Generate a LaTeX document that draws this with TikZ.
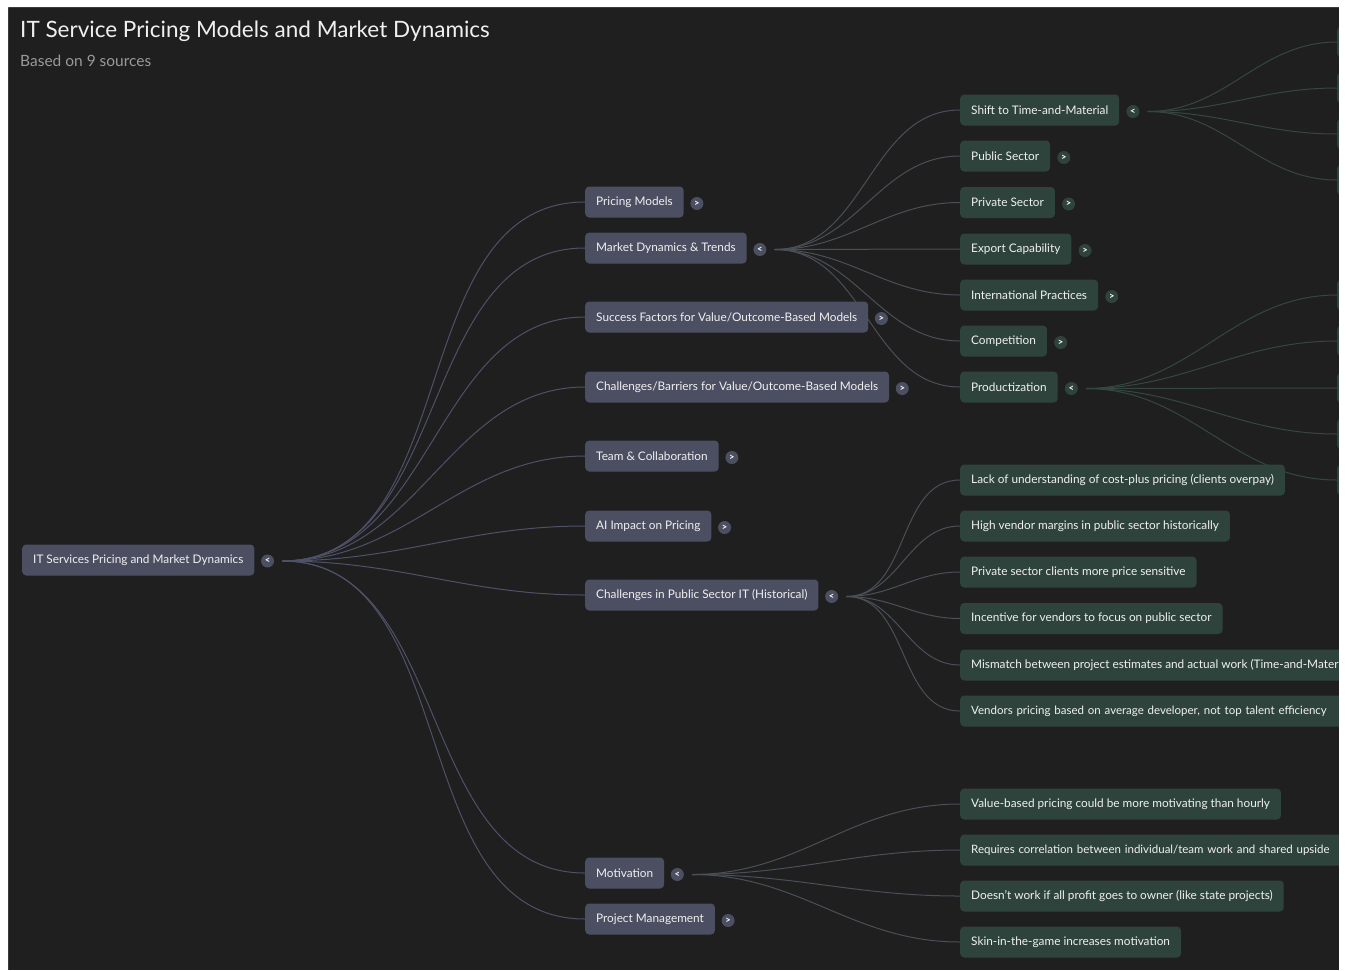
\documentclass[tikz,border=0pt]{standalone}
\usepackage{fontspec}
\setmainfont{Lato}
\usetikzlibrary{backgrounds}

\definecolor{panel}{HTML}{1F1F1F}
\definecolor{bluefill}{HTML}{4C4F62}
\definecolor{greenfill}{HTML}{2F433D}
\definecolor{nodetext}{HTML}{F0F0F0}
\definecolor{linkroot}{HTML}{4F5168}
\definecolor{linkmid}{HTML}{4A4F58}
\definecolor{linkgreen}{HTML}{34483F}
\definecolor{subgrey}{HTML}{9A9A9A}

\begin{document}
\begin{tikzpicture}[x=1pt, y=-1pt,
    bluebox/.style={fill=bluefill, text=nodetext, rounded corners=4pt, anchor=west,
        minimum height=31pt, inner xsep=11pt, inner ysep=0pt,
        font=\fontsize{11.8}{13}\selectfont},
    greenbox/.style={bluebox, fill=greenfill},
    widebox/.style={greenbox, text width=370pt, align=left, font=\fontsize{11.5}{13}\selectfont},
    bluetog/.style={circle, fill=bluefill, text=white, inner sep=0pt, minimum size=13pt,
        font=\fontsize{9.5}{9.5}\bfseries\selectfont},
    greentog/.style={bluetog, fill=greenfill},
    link/.style={line width=1pt, out=0, in=180}]
        \useasboundingbox (0,0) rectangle (1348,970);

        % title
        \node[anchor=base west, inner sep=0pt, text=white!94!black,
            font=\fontsize{22.5}{26}\selectfont] (title) at (20,37) {IT Service Pricing Models and Market Dynamics};
        \node[anchor=base west, inner sep=0pt, text=subgrey,
            font=\fontsize{15.5}{18}\selectfont] (subtitle) at (20,66) {Based on 9 sources};

        % root
        \node[bluebox] (root) at (22,560) {IT Services Pricing and Market Dynamics};
        \path (root.east) + (13,1) node[bluetog] (root-tog) {<};

        % first level
        \node[bluebox] (pricing) at (585,202) {Pricing Models};
        \node[bluebox] (market) at (585,248) {Market Dynamics \& Trends};
        \node[bluebox] (success) at (585,317) {Success Factors for Value/Outcome-Based Models};
        \node[bluebox] (barriers) at (585,387) {Challenges/Barriers for Value/Outcome-Based Models};
        \node[bluebox] (team) at (585,456) {Team \& Collaboration};
        \node[bluebox] (aiimpact) at (585,526) {AI Impact on Pricing};
        \node[bluebox] (public) at (585,595) {Challenges in Public Sector IT (Historical)};
        \node[bluebox] (motivation) at (585,873) {Motivation};
        \node[bluebox] (projects) at (585,919) {Project Management};
        \foreach \n/\s in {pricing/>, market/<, success/>, barriers/>, team/>,
                aiimpact/>, public/<, motivation/<, projects/>}
            \path (\n.east) + (13,1.5) node[bluetog] (\n-tog) {\s};

        % market dynamics
        \node[greenbox] (shift) at (960,110) {Shift to Time-and-Material};
        \node[greenbox] (pubsec) at (960,156) {Public Sector};
        \node[greenbox] (privsec) at (960,202.5) {Private Sector};
        \node[greenbox] (export) at (960,249) {Export Capability};
        \node[greenbox] (intl) at (960,295) {International Practices};
        \node[greenbox] (competition) at (960,341) {Competition};
        \node[greenbox] (product) at (960,387) {Productization};
        \foreach \n/\s in {shift/<, pubsec/>, privsec/>, export/>, intl/>,
                competition/>, product/<}
            \path (\n.east) + (13.5,1.5) node[greentog] (\n-tog) {\s};

        % public sector
        \node[greenbox] (overpay) at (960,480) {Lack of understanding of cost-plus pricing (clients overpay)};
        \node[greenbox] (margins) at (960,526) {High vendor margins in public sector historically};
        \node[greenbox] (sensitive) at (960,572) {Private sector clients more price sensitive};
        \node[greenbox] (incentive) at (960,618.5) {Incentive for vendors to focus on public sector};
        \node[greenbox] (mismatch) at (960,665) {Mismatch between project estimates and actual work (Time-and-Material)};
        \node[widebox] (average) at (960,711) {Vendors pricing based on average developer, not top talent efficiency};

        % motivation
        \node[greenbox] (valuebased) at (960,804) {Value-based pricing could be more motivating than hourly};
        \node[widebox] (upside) at (960,850) {Requires correlation between individual/team work and shared upside};
        \node[greenbox] (owner) at (960,896) {Doesn't work if all profit goes to owner (like state projects)};
        \node[greenbox] (skin) at (960,942) {Skin-in-the-game increases motivation};

        % third level, cut off at the edge
        \foreach \y [count=\i] in {42,88,134,180}
            \node[greenbox, minimum width=40pt] (shift-\i) at (1337,\y) {};
        \foreach \y [count=\i] in {295,341,388,434,480}
            \node[greenbox, minimum width=40pt] (product-\i) at (1337,\y) {};

        \foreach \n in {root,market,public,motivation,shift,product}
            \path (\n-tog.east) + (8,0) coordinate (\n-out);

        \begin{scope}[on background layer]
            \fill[panel] (8,7) rectangle (1339,970);
            \foreach \n in {pricing,market,success,barriers,team,aiimpact,public,motivation,projects}
                \draw[link, draw=linkroot] (root-out) to (\n.west);
            \foreach \n in {shift,pubsec,privsec,export,intl,competition,product}
                \draw[link, draw=linkmid] (market-out) to (\n.west);
            \foreach \n in {overpay,margins,sensitive,incentive,mismatch,average}
                \draw[link, draw=linkmid] (public-out) to (\n.west);
            \foreach \n in {valuebased,upside,owner,skin}
                \draw[link, draw=linkmid] (motivation-out) to (\n.west);
            \foreach \i in {1,...,4}
                \draw[link, draw=linkgreen] (shift-out) to (shift-\i.west);
            \foreach \i in {1,...,5}
                \draw[link, draw=linkgreen] (product-out) to (product-\i.west);
        \end{scope}

        % white margin
        \fill[white, even odd rule] (0,0) rectangle (1348,970) (8,7) rectangle (1339,970);
    \end{tikzpicture}
\end{document}
